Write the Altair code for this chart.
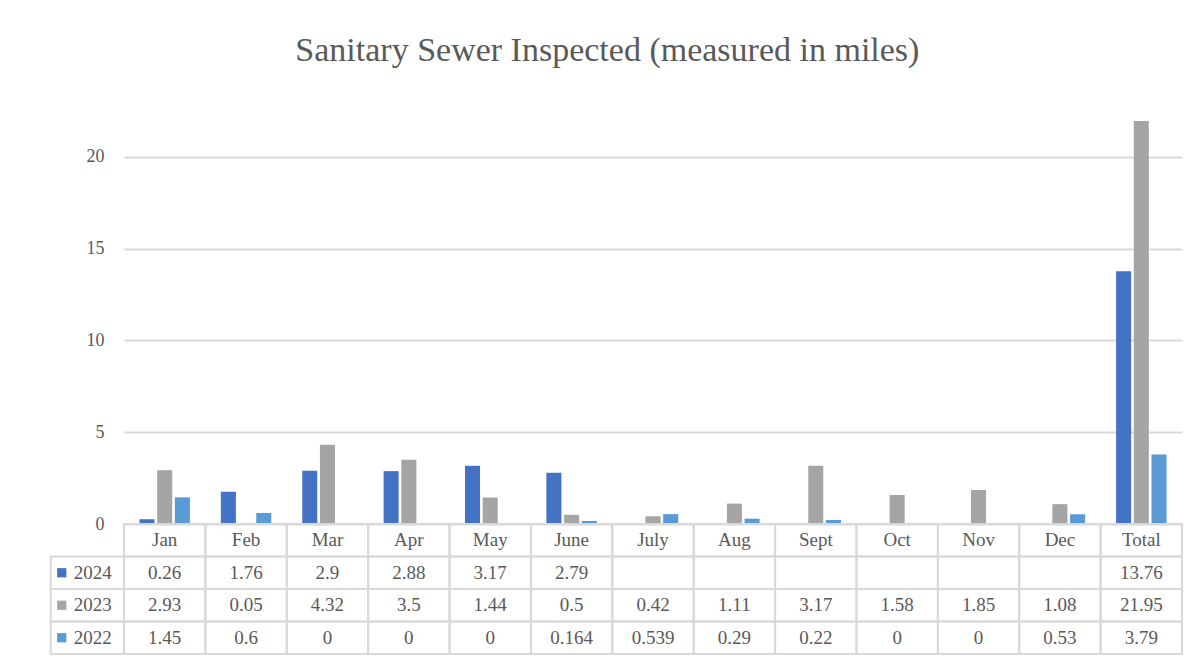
import altair as alt
import pandas as pd

categories = ["Jan", "Feb", "Mar", "Apr", "May", "June", "July", "Aug", "Sept", "Oct", "Nov", "Dec", "Total"]
years = ["2024", "2023", "2022"]
v2024 = [0.26, 1.76, 2.9, 2.88, 3.17, 2.79, None, None, None, None, None, None, 13.76]
v2023 = [2.93, 0.05, 4.32, 3.5, 1.44, 0.5, 0.42, 1.11, 3.17, 1.58, 1.85, 1.08, 21.95]
v2022 = [1.45, 0.6, 0, 0, 0, 0.164, 0.539, 0.29, 0.22, 0, 0, 0.53, 3.79]
year_colors = ["#4472C4", "#A5A5A5", "#5B9BD5"]

series = {"2024": v2024, "2023": v2023, "2022": v2022}
FONT = "Liberation Serif"
TXT = "#595959"
GRID = "#d9d9d9"

# ---- bar data
rows = []
for y in years:
    for c, v in zip(categories, series[y]):
        if v is not None:
            rows.append({"category": c, "year": y, "value": v})
bar_df = pd.DataFrame(rows)

color_scale = alt.Scale(domain=years, range=year_colors)

bars = alt.Chart(bar_df).mark_bar().encode(
    x=alt.X("category:N", sort=categories, axis=None,
            scale=alt.Scale(paddingInner=0.38, paddingOuter=0.19)),
    xOffset=alt.XOffset("year:N", sort=years, scale=alt.Scale(paddingInner=0.15)),
    y=alt.Y("value:Q", scale=alt.Scale(domain=[0, 22], nice=False),
            axis=alt.Axis(values=[0, 5, 10, 15, 20], title=None, grid=True,
                          gridColor=GRID, gridWidth=2, domain=False, ticks=False,
                          labelFont=FONT, labelFontSize=18, labelColor=TXT,
                          labelPadding=20)),
    color=alt.Color("year:N", scale=color_scale, legend=None),
).properties(width=1058, height=404)

# ---- table data
ncol = len(categories)
cells = []
texts = []
for i, c in enumerate(categories):
    cells.append({"x": i, "x2": i + 1, "y": 0, "y2": 1})
    texts.append({"xc": i + 0.5, "yc": 0.5, "label": c})
    for r, y in enumerate(years, start=1):
        cells.append({"x": i, "x2": i + 1, "y": r, "y2": r + 1})
        v = series[y][i]
        texts.append({"xc": i + 0.5, "yc": r + 0.5, "label": "" if v is None else f"{v:g}"})
LEG_W = 0.9
legend_rows = []
for r, y in enumerate(years, start=1):
    cells.append({"x": -LEG_W, "x2": 0, "y": r, "y2": r + 1})
    legend_rows.append({"x": -LEG_W, "yc": r + 0.5, "year": y})
cells_df = pd.DataFrame(cells)
texts_df = pd.DataFrame(texts)
leg_df = pd.DataFrame(legend_rows)

xs = alt.Scale(domain=[0, ncol], nice=False, zero=False)
ys = alt.Scale(domain=[0, 4], nice=False, zero=False, reverse=True)

grid_cells = alt.Chart(cells_df).mark_rect(
    fill=None, stroke=GRID, strokeWidth=2, clip=False
).encode(
    x=alt.X("x:Q", scale=xs, axis=None), x2="x2:Q",
    y=alt.Y("y:Q", scale=ys, axis=None), y2="y2:Q",
)
cell_text = alt.Chart(texts_df).mark_text(
    font=FONT, fontSize=19, color=TXT, baseline="middle", align="center", clip=False
).encode(
    x=alt.X("xc:Q", scale=xs, axis=None),
    y=alt.Y("yc:Q", scale=ys, axis=None),
    text="label:N",
)
leg_sq = alt.Chart(leg_df).mark_point(
    shape="square", filled=True, size=85, opacity=1, clip=False, xOffset=11
).encode(
    x=alt.X("x:Q", scale=xs, axis=None),
    y=alt.Y("yc:Q", scale=ys, axis=None),
    color=alt.Color("year:N", scale=color_scale, legend=None),
)
leg_txt = alt.Chart(leg_df).mark_text(
    font=FONT, fontSize=19, color=TXT, baseline="middle", align="left", clip=False, dx=23
).encode(
    x=alt.X("x:Q", scale=xs, axis=None),
    y=alt.Y("yc:Q", scale=ys, axis=None),
    text="year:N",
)
table = alt.layer(grid_cells, cell_text, leg_sq, leg_txt).properties(width=1058, height=130)

chart = alt.vconcat(bars, table, spacing=0, bounds="flush").properties(
    title=alt.TitleParams(
        "Sanitary  Sewer Inspected (measured in miles)",
        font=FONT, fontSize=34, color=TXT, fontWeight="normal",
        anchor="middle", offset=52, dx=-9,
    ),
    padding={"left": 41, "top": 26, "right": 10, "bottom": 5},
).configure(background="white").configure_view(stroke=None)

chart.save("out.html", embed_options={"renderer": "svg", "actions": False})
